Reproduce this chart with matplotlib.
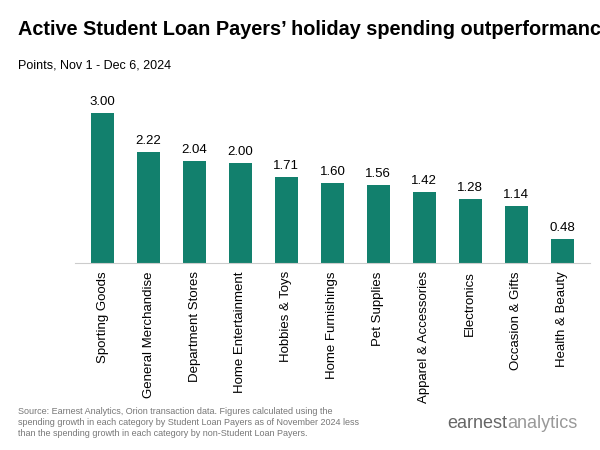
import matplotlib.pyplot as plt

categories = ["Sporting Goods", "General Merchandise", "Department Stores",
              "Home Entertainment", "Hobbies & Toys", "Home Furnishings",
              "Pet Supplies", "Apparel & Accessories", "Electronics",
              "Occasion & Gifts", "Health & Beauty"]
values = [3.00, 2.22, 2.04, 2.00, 1.71, 1.60, 1.56, 1.42, 1.28, 1.14, 0.48]

plt.rcParams['font.family'] = ['Liberation Sans', 'DejaVu Sans']

fig = plt.figure(figsize=(6, 4.5), dpi=100)
ax = fig.add_axes([0.125, 0.416, 0.858, 0.356])

bars = ax.bar(range(len(values)), values, width=0.5, color="#12806d")
for i, v in enumerate(values):
    ax.text(i, v + 0.1, f"{v:.2f}", ha="center", va="bottom", fontsize=9.5)

ax.set_xlim(-0.6, len(values) - 0.4)
ax.set_ylim(0, 3.2)
ax.set_xticks(range(len(values)))
ax.set_xticklabels(categories, rotation=90, fontsize=9.5)
ax.tick_params(axis="x", length=0, pad=6)
ax.set_yticks([])
for s in ["top", "right", "left"]:
    ax.spines[s].set_visible(False)
ax.spines["bottom"].set_color("#cccccc")

fig.text(0.03, 0.922, "Active Student Loan Payers\u2019 holiday spending outperformance",
         fontsize=14.3, fontweight="bold")
fig.text(0.03, 0.848, "Points, Nov 1 - Dec 6, 2024", fontsize=9)
fig.text(0.03, 0.03,
         "Source: Earnest Analytics, Orion transaction data. Figures calculated using the\n"
         "spending growth in each category by Student Loan Payers as of November 2024 less\n"
         "than the spending growth in each category by non-Student Loan Payers.",
         fontsize=6.5, color="#777777", linespacing=1.3)
fig.text(0.745, 0.05, "earnest", fontsize=13, color="#666666")
fig.text(0.845, 0.05, "analytics", fontsize=13, color="#999999")

fig.savefig("out.png", dpi=100)
